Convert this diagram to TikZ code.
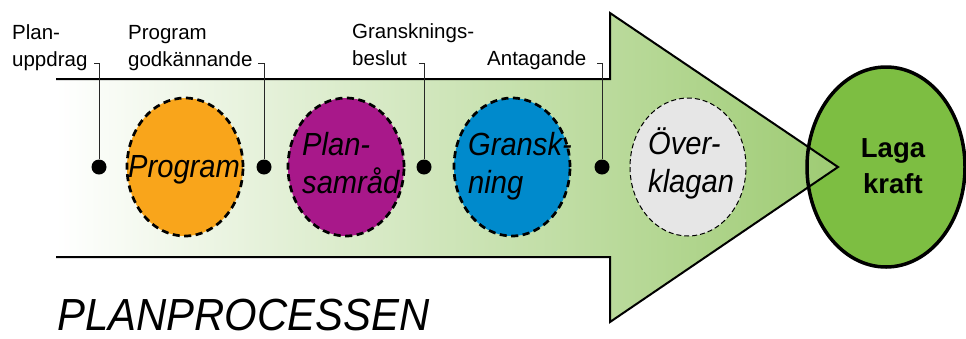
\documentclass[tikz,border=0pt]{standalone}
\usepackage{fontspec}
\setmainfont{Liberation Sans}
\newfontfamily\condit[FakeStretch=0.91]{Liberation Sans}
\newfontfamily\condtitle[FakeStretch=0.93]{Liberation Sans}
\usetikzlibrary{shapes.geometric}
\definecolor{arrowgreen}{RGB}{158,203,115}
\definecolor{progorange}{RGB}{249,165,27}
\definecolor{planpurple}{RGB}{168,24,138}
\definecolor{gransblue}{RGB}{0,138,204}
\definecolor{overgrey}{RGB}{230,230,230}
\definecolor{lagagreen}{RGB}{125,190,66}
\begin{document}
\begin{tikzpicture}[x=1pt,y=-1pt,
  stage/.style={ellipse, minimum width=116pt, minimum height=138pt, inner sep=0pt,
    draw=black, line width=2.7pt, dash pattern=on 7pt off 4.5pt},
  lbl/.style={font=\fontsize{20.5}{27}\selectfont, align=left, inner sep=0pt, anchor=base west},
  stagetxt/.style={font=\condit\itshape\fontsize{32}{38}\selectfont, align=left, inner sep=0pt, anchor=base west},
  lagatxt/.style={font=\bfseries\fontsize{27.5}{36}\selectfont, align=center, inner sep=0pt, anchor=base},
  dotnode/.style={circle, fill=black, minimum size=15pt, inner sep=0pt},
  hook/.style={line width=0.9pt, black!85},
  outline/.style={line width=2pt, black, line join=miter}
]
\useasboundingbox (0,0) rectangle (966,338);

% Laga kraft fill (below the arrow)
\node[ellipse, minimum width=158pt, minimum height=200pt, inner sep=0pt, fill=lagagreen] (lagabg) at (886,167) {};

% arrow
\shade[left color=white, right color=arrowgreen]
  (56,79) -- (610,79) -- (610,13) -- (838,167) -- (610,322) -- (610,257) -- (56,257) -- cycle;
\draw[outline] (56,79) -- (610,79) -- (610,13) -- (838,167) -- (610,322) -- (610,257) -- (56,257);

% Laga kraft ring
\node[ellipse, minimum width=158pt, minimum height=200pt, inner sep=0pt, draw=black, line width=3.5pt] (laga) at (886,167) {};
\node[lagatxt] (tlaga) at (893,193) {Laga\\kraft};

% milestone labels
\node[lbl] (l1) at (12,66) {Plan-\\uppdrag};
\node[lbl] (l2) at (128,66) {Program\\godkännande};
\node[lbl] (l3) at (352,65) {Gransknings-\\beslut};
\node[lbl] (l4) at (487,65) {Antagande};

% dots
\node[dotnode] (d1) at (99,167) {};
\node[dotnode] (d2) at (264,167) {};
\node[dotnode] (d3) at (424,167) {};
\node[dotnode] (d4) at (602,167) {};

\coordinate (h1) at (94,63);
\coordinate (h2) at (258,63);
\coordinate (h3) at (419,63);
\coordinate (h4) at (597,63);
\draw[hook] (h1) -| (d1);
\draw[hook] (h2) -| (d2);
\draw[hook] (h3) -| (d3);
\draw[hook] (h4) -| (d4);

% stages
\node[stage, fill=progorange] (prog) at (185,167) {};
\node[stage, fill=planpurple] (plan) at (346,167) {};
\node[stage, fill=gransblue] (gran) at (512,167) {};
\node[stage, fill=overgrey, line width=1pt, dash pattern=on 5pt off 3pt] (over) at (688,167) {};

\node[stagetxt] (tprog) at (128,177) {Program};
\node[stagetxt] (tplan) at (302,193) {Plan-\\samråd};
\node[stagetxt] (tgran) at (468,193) {Gransk-\\ning};
\node[stagetxt] (tover) at (648,192) {Över-\\klagan};

\node[anchor=base west, inner sep=0pt, text depth=0pt, font=\condtitle\itshape\fontsize{45}{54}\selectfont] (title) at (57,330) {PLANPROCESSEN};
\end{tikzpicture}
\end{document}
